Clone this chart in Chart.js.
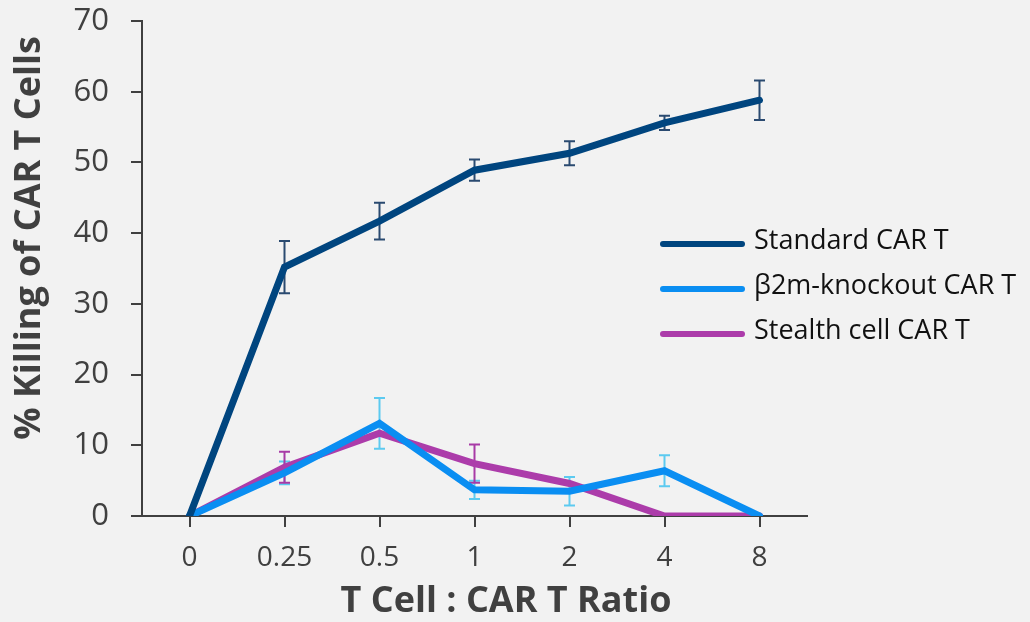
<!DOCTYPE html>
<html>
<head>
<meta charset="utf-8">
<script src="https://cdn.jsdelivr.net/npm/chart.js@4"></script>
<style>
  html, body { margin: 0; padding: 0; background: #f2f2f2; }
  #wrap { width: 1030px; height: 622px; }
</style>
</head>
<body>
<div id="wrap"><canvas id="chart" width="1030" height="622"></canvas></div>
<script>
// data
const ratios = ['0', '0.25', '0.5', '1', '2', '4', '8'];
const standardVals = [0, 35.2, 41.7, 48.9, 51.3, 55.6, 58.8];
const standardErr  = [0, 3.7, 2.6, 1.5, 1.7, 1.0, 2.8];
const b2mVals      = [0, 6.1, 13.1, 3.7, 3.5, 6.4, 0];
const b2mErr       = [0, 1.6, 3.6, 1.3, 2.0, 2.2, 0];
const stealthVals  = [0, 6.9, 11.7, 7.4, 4.6, 0, 0];
const stealthErr   = [0, 2.2, 0, 2.7, 0, 0, 0];
const yTicks = [0, 10, 20, 30, 40, 50, 60, 70];
const xTitle = 'T Cell : CAR T Ratio';
const yTitle = '% Killing of CAR T Cells';

const FONT = "'Open Sans', 'Noto Sans', sans-serif";
const TXT = '#404040';

const series = [
    { label: 'Standard CAR T', data: standardVals, err: standardErr, color: '#00457f', errColor: '#2a4a70' },
    { label: '\u03b22m-knockout CAR T', data: b2mVals, err: b2mErr, color: '#0a8ef2', errColor: '#5ccaf0' },
    { label: 'Stealth cell CAR T', data: stealthVals, err: stealthErr, color: '#ac3caa', errColor: '#a83aa6' }
];

// error bars, drawn under the lines
const errorBars = {
    id: 'errorBars',
    beforeDatasetsDraw(chart) {
        const { ctx, scales: { x, y } } = chart;
        ctx.save();
        ctx.lineWidth = 2;
        series.forEach(s => {
            ctx.strokeStyle = s.errColor;
            s.data.forEach((v, i) => {
                const e = s.err[i];
                if (!e) return;
                const px = x.getPixelForValue(i);
                const top = y.getPixelForValue(v + e);
                const bot = y.getPixelForValue(v - e);
                ctx.beginPath();
                ctx.moveTo(px, top); ctx.lineTo(px, bot);
                ctx.moveTo(px - 5.5, top); ctx.lineTo(px + 5.5, top);
                ctx.moveTo(px - 5.5, bot); ctx.lineTo(px + 5.5, bot);
                ctx.stroke();
            });
        });
        ctx.restore();
    }
};

// legend inside the plot + axis titles (placed like the original, off-centre)
const labelsPlugin = {
    id: 'labelsPlugin',
    afterDraw(chart) {
        const { ctx } = chart;
        ctx.save();
        ctx.lineCap = 'round';
        ctx.lineWidth = 6;
        ctx.font = '27px ' + FONT;
        ctx.textBaseline = 'middle';
        series.forEach((s, i) => {
            const yy = 244 + i * 45;
            ctx.strokeStyle = s.color;
            ctx.beginPath();
            ctx.moveTo(663, yy); ctx.lineTo(742, yy);
            ctx.stroke();
            ctx.fillStyle = '#111';
            ctx.fillText(s.label, 754, yy - 3);
        });

        ctx.fillStyle = TXT;
        ctx.font = 'bold 36px ' + FONT;
        ctx.textAlign = 'center';
        ctx.fillText(xTitle, 506, 602);

        ctx.translate(30, 238);
        ctx.rotate(-Math.PI / 2);
        ctx.fillText(yTitle, 0, 0);
        ctx.restore();
    }
};

new Chart(document.getElementById('chart'), {
    type: 'line',
    data: {
        labels: ratios,
        datasets: series.map(s => ({
            label: s.label,
            data: s.data,
            borderColor: s.color,
            backgroundColor: s.color,
            borderWidth: 7,
            pointRadius: 0,
            tension: 0,
            borderCapStyle: 'round'
        }))
    },
    options: {
        responsive: false,
        animation: false,
        layout: { padding: { top: 21, right: 223, left: 0, bottom: 0 } },
        plugins: { legend: { display: false }, tooltip: { enabled: false } },
        scales: {
            x: {
                offset: true,
                grid: { offset: false, drawOnChartArea: false, color: '#404040', tickLength: 11, lineWidth: 2 },
                border: { color: '#404040', width: 2 },
                ticks: { color: TXT, font: { family: FONT, size: 28 }, padding: 14, maxRotation: 0 },
                afterFit(scale) { scale.height = 106; scale.paddingLeft = 0; scale.paddingRight = 0; }
            },
            y: {
                min: 0, max: 70,
                afterBuildTicks(scale) { scale.ticks = yTicks.map(v => ({ value: v })); },
                grid: { drawOnChartArea: false, color: '#404040', tickLength: 11, lineWidth: 2 },
                border: { color: '#404040', width: 2 },
                ticks: { color: TXT, font: { family: FONT, size: 31 }, padding: 22 },
                afterFit(scale) { scale.width = 142; scale.paddingTop = 0; scale.paddingBottom = 0; }
            }
        }
    },
    plugins: [errorBars, labelsPlugin]
});
</script>
</body>
</html>
